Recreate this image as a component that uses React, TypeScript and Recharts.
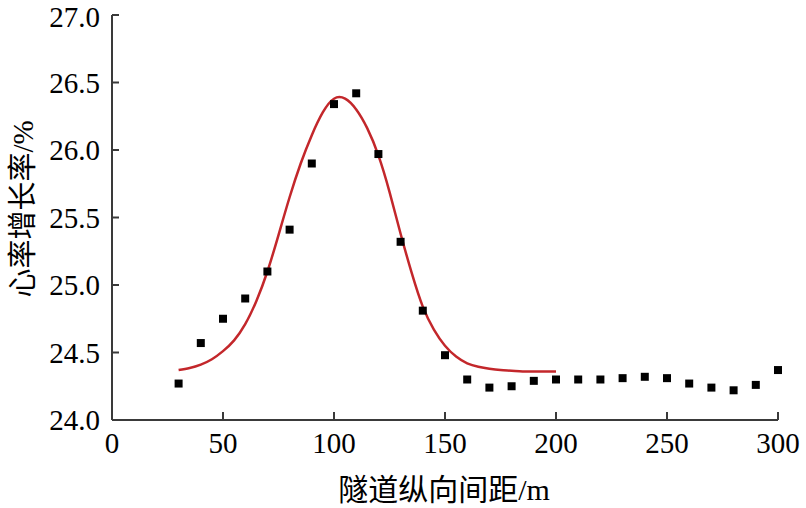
import React from "react";
import {
  ComposedChart,
  Scatter,
  Line,
  XAxis,
  YAxis,
  Label,
} from "recharts";

// measured points (tunnel spacing, m -> heart rate increase, %)
const spacing = [
  30, 40, 50, 60, 70, 80, 90, 100, 110, 120, 130, 140, 150, 160, 170, 180,
  190, 200, 210, 220, 230, 240, 250, 260, 270, 280, 290, 300,
];
const rateValues = [
  24.27, 24.57, 24.75, 24.9, 25.1, 25.41, 25.9, 26.34, 26.42, 25.97, 25.32,
  24.81, 24.48, 24.3, 24.24, 24.25, 24.29, 24.3, 24.3, 24.3, 24.31, 24.32,
  24.31, 24.27, 24.24, 24.22, 24.26, 24.37,
];

// fitted curve
const fitSpacing = [
  30, 35, 40, 45, 50, 55, 60, 65, 70, 75, 80, 85, 90, 95, 100, 105, 110, 115,
  120, 125, 130, 135, 140, 145, 150, 155, 160, 165, 170, 175, 180, 185, 190,
  195, 200,
];
const fitValues = [
  24.37, 24.385, 24.41, 24.45, 24.51, 24.59, 24.71, 24.88, 25.1, 25.37, 25.65,
  25.9, 26.11, 26.28, 26.38, 26.38, 26.3, 26.16, 25.96, 25.69, 25.38, 25.09,
  24.84, 24.67, 24.55, 24.47, 24.42, 24.395, 24.38, 24.37, 24.365, 24.36,
  24.36, 24.36, 24.36,
];

const xTicks = [0, 50, 100, 150, 200, 250, 300];
const yTicks = [24.0, 24.5, 25.0, 25.5, 26.0, 26.5, 27.0];

const points = spacing.map((x, i) => ({ x, y: rateValues[i] }));
const fit = fitSpacing.map((x, i) => ({ x, y: fitValues[i] }));

const serif = "'Liberation Serif', 'Times New Roman', serif";
const cjk = "'Noto Sans CJK SC', sans-serif";
const axisColor = "#3a3a3a";

export default function App() {
  return (
    <div style={{ position: "absolute", left: 0, top: 0, background: "#fff" }}>
      <ComposedChart
        width={806}
        height={508}
        margin={{ top: 15, right: 28, bottom: 0, left: 0 }}
      >
        <XAxis
          dataKey="x"
          type="number"
          domain={[0, 300]}
          ticks={xTicks}
          height={88}
          tickSize={-8}
          tickMargin={20}
          stroke={axisColor}
          strokeWidth={2}
          tick={{ fill: "#000", fontSize: 29, fontFamily: serif }}
        >
          <Label
            content={() => (
              <text x={444} y={500} textAnchor="middle" fill="#000" fontSize={30}>
                <tspan fontFamily={cjk}>隧道纵向间距</tspan>
                <tspan fontFamily={serif}>/m</tspan>
              </text>
            )}
          />
        </XAxis>
        <YAxis
          dataKey="y"
          type="number"
          domain={[24, 27]}
          ticks={yTicks}
          width={112}
          tickSize={-7}
          tickMargin={19}
          stroke={axisColor}
          strokeWidth={2}
          tickFormatter={(v: number) => v.toFixed(1)}
          tick={{ fill: "#000", fontSize: 29, fontFamily: serif }}
        >
          <Label
            content={() => (
              <text
                x={23}
                y={209}
                transform="rotate(-90 23 209)"
                textAnchor="middle"
                dy={10}
                fill="#000"
                fontSize={29}
              >
                <tspan fontFamily={cjk}>心率增长率</tspan>
                <tspan fontFamily={serif}>/%</tspan>
              </text>
            )}
          />
        </YAxis>
        <Line
          data={fit}
          dataKey="y"
          type="natural"
          stroke="#c3272b"
          strokeWidth={2.5}
          dot={false}
          activeDot={false}
          isAnimationActive={false}
        />
        <Scatter
          data={points}
          dataKey="y"
          shape="square"
          fill="#000"
          size={121}
          isAnimationActive={false}
        />
      </ComposedChart>
    </div>
  );
}
